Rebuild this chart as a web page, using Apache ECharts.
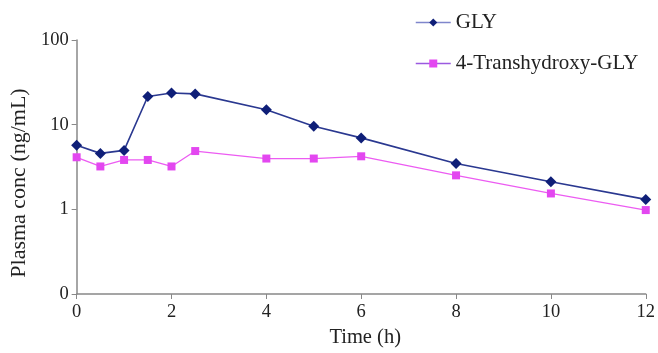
<!DOCTYPE html>
<html><head><meta charset="utf-8">
<script src="https://cdn.jsdelivr.net/npm/echarts@6/dist/echarts.min.js"></script>
<style>html,body{margin:0;padding:0;background:#fff}#c{width:658px;height:353px}</style>
</head><body><div id="c"></div>
<script>
const times = [0, 0.5, 1, 1.5, 2, 2.5, 4, 5, 6, 8, 10, 12];
const gly = [5.73, 4.58, 4.97, 21.5, 23.7, 23.1, 15.0, 9.6, 6.98, 3.48, 2.12, 1.31];
const metab = [4.12, 3.21, 3.83, 3.83, 3.21, 4.88, 3.98, 3.98, 4.23, 2.52, 1.54, 0.98];
const seriesNames = ['GLY', '4-Transhydroxy-GLY'];
const xTicks = [0, 2, 4, 6, 8, 10, 12];
const yTicks = [0.1, 1, 10, 100];

const font = 'Liberation Serif';
const chart = echarts.init(document.getElementById('c'));
chart.setOption({
  animation: false,
  textStyle: {fontFamily: font},
  grid: {left: 76, right: 12, top: 40, bottom: 55},
  legend: {
    orient: 'vertical', left: 410, top: 7, itemWidth: 35, itemHeight: 10, itemGap: 20,
    textStyle: {fontFamily: font, fontSize: 21, color: '#222'},
    data: [
      {name: seriesNames[0], lineStyle: {color: '#7f86cc', width: 1.5}},
      {name: seriesNames[1], lineStyle: {color: '#9b5ae0', width: 1.5}}
    ]
  },
  xAxis: {
    type: 'value', min: 0, max: 12, interval: 2,
    name: 'Time (h)', nameLocation: 'middle', nameGap: 33,
    nameTextStyle: {fontFamily: font, fontSize: 20.5, color: '#222', padding: [0, 0, 0, 8]},
    axisLine: {lineStyle: {color: '#888', width: 1.5}},
    axisTick: {show: true, length: 5, lineStyle: {color: '#888'}},
    axisLabel: {fontFamily: font, fontSize: 18.5, color: '#222', margin: 9},
    splitLine: {show: false}
  },
  yAxis: {
    type: 'log', logBase: 10, min: 0.1, max: 100,
    name: 'Plasma conc (ng/mL)', nameLocation: 'middle', nameGap: 40,
    nameTextStyle: {fontFamily: font, fontSize: 22, color: '#222', padding: [0, 32, 0, 0]},
    axisLine: {show: true, lineStyle: {color: '#888', width: 1.5}},
    axisTick: {show: true, length: 5, lineStyle: {color: '#888'}},
    minorTick: {show: false},
    axisLabel: {fontFamily: font, fontSize: 18.5, color: '#222', margin: 8,
      formatter: v => (v < 1 ? '0' : String(Math.round(v)))},
    splitLine: {show: false}
  },
  series: [
    {
      name: seriesNames[0], type: 'line',
      data: times.map((t, i) => [t, gly[i]]),
      symbol: 'diamond', symbolSize: 11,
      itemStyle: {color: '#0f1f78'},
      lineStyle: {color: '#2a3890', width: 1.6}
    },
    {
      name: seriesNames[1], type: 'line',
      data: times.map((t, i) => [t, metab[i]]),
      symbol: 'rect', symbolSize: 8,
      itemStyle: {color: '#e347f0'},
      lineStyle: {color: '#ec5cf2', width: 1.3}
    }
  ]
});
</script></body></html>
